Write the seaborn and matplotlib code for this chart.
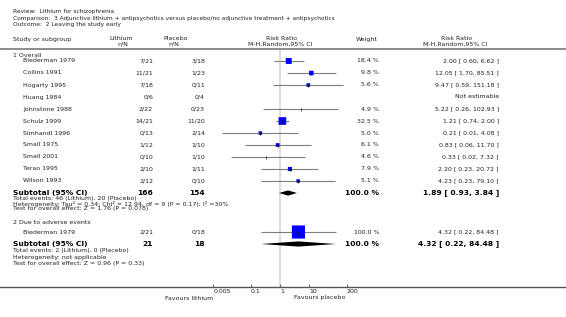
import numpy as np
import pandas as pd
import matplotlib
matplotlib.use('Agg')
import matplotlib.pyplot as plt
import seaborn as sns

# ---- data ----
studies = ["Biederman 1979", "Collins 1991", "Hogarty 1995", "Huang 1984", "Johnstone 1988",
           "Schulz 1999", "Simhandl 1996", "Small 1975", "Small 2001", "Terao 1995", "Wilson 1993"]
lithium = ["7/21", "11/21", "7/18", "0/6", "2/22", "14/21", "0/13", "1/12", "0/10", "2/10", "2/12"]
placebo = ["3/18", "1/23", "0/11", "0/4", "0/23", "11/20", "2/14", "1/10", "1/10", "1/11", "0/10"]
weights = [18.4, 9.8, 5.6, np.nan, 4.9, 32.5, 5.0, 6.1, 4.6, 7.9, 5.1]
rr = [2.00, 12.05, 9.47, np.nan, 5.22, 1.21, 0.21, 0.83, 0.33, 2.20, 4.23]
rr_lo = [0.60, 1.70, 0.59, np.nan, 0.26, 0.74, 0.01, 0.06, 0.02, 0.23, 0.23]
rr_hi = [6.62, 85.51, 151.18, np.nan, 102.93, 2.00, 4.08, 11.70, 7.32, 20.72, 79.10]

g2_study = ["Biederman 1979"]
g2_lithium = ["2/21"]
g2_placebo = ["0/18"]
g2_weights = [100.0]
g2_rr = [4.32]
g2_lo = [0.22]
g2_hi = [84.48]

sub_rr = [1.89, 4.32]
sub_lo = [0.93, 0.22]
sub_hi = [3.84, 84.48]
sub_n_li = ["166", "21"]
sub_n_pl = ["154", "18"]

ticks = [0.005, 0.1, 1, 10, 200]

# ---- layout (pixels) ----
W, H = 566, 317
x_one = 280.0
px_dec = 29.0
row_y = [61, 73, 85, 97, 109, 121, 133, 145, 157, 169, 181]
g2_y = [232]
sub_y = [193, 244]

fig = plt.figure(figsize=(W / 100, H / 100), dpi=100)
ax = fig.add_axes([0, 1 - 287 / H, 1, (287 - 49) / H])
ax.set_xscale('log')
ax.set_xlim(10 ** (-x_one / px_dec), 10 ** ((W - x_one) / px_dec))
ax.set_ylim(287, 49)

FS = 4.5
TC = '#222222'


def put(x, y, s, **kw):
    kw.setdefault('fontsize', FS)
    kw.setdefault('color', TC)
    kw.setdefault('va', 'center')
    fig.text(x / W, 1 - y / H, s, **kw)


df = pd.DataFrame({"study": studies + g2_study,
                   "rr": rr + g2_rr, "lo": rr_lo + g2_lo, "hi": rr_hi + g2_hi,
                   "weight": weights + g2_weights,
                   "y": row_y + g2_y})
est = df.dropna(subset=["rr"])

ax.axvline(1, color='#dedede', lw=1.6, zorder=0)
ax.hlines(est["y"], est["lo"], est["hi"], color='#7f7f7f', lw=0.8, zorder=1)

sq = est[est["weight"] >= 5.0]
sns.scatterplot(data=sq, x="rr", y="y", marker='s', size="weight",
                sizes={w: 0.876 * w + 2 for w in sq["weight"]}, color='#0000ff',
                edgecolor='none', linewidth=0, legend=False, ax=ax, zorder=2)
for c in ax.collections[-1:]:
    c.set_snap(False)
ax.vlines(est["rr"], est["y"] - 1.5, est["y"] + 1.5, color='black', lw=0.5, zorder=3)

for r, lo, hi, y in zip(sub_rr, sub_lo, sub_hi, sub_y):
    ax.fill([lo, r, hi, r], [y, y - 2.6, y, y + 2.6], color='black', lw=0, zorder=3)

ax.set_xticks(ticks)
ax.set_xticklabels(["0.005", "0.1", "1", "10", "200"])
ax.minorticks_off()
ax.tick_params(axis='x', direction='in', length=2.2, width=0.6, color='#444444',
               labelsize=FS, labelcolor=TC, pad=1.5)
for lab in ax.get_xticklabels():
    lab.set_ha('left')
ax.set_yticks([])
ax.set_xlabel("")
ax.set_ylabel("")
for s in ['left', 'right']:
    ax.spines[s].set_visible(False)
ax.spines['top'].set_color('#8c8c8c')
ax.spines['top'].set_linewidth(1.4)
ax.spines['bottom'].set_color('#555555')
ax.spines['bottom'].set_linewidth(1.0)

# ---- titles and headers ----
FT = 4.2
put(13, 12, "Review:  Lithium for schizophrenia", fontsize=FT)
put(13, 18.5, "Comparison:  3 Adjunctive lithium + antipsychotics versus placebo/no adjunctive treatment + antipsychotics", fontsize=FT)
put(13, 24.5, "Outcome:  2 Leaving the study early", fontsize=FT)
put(13, 39, "Study or subgroup")
put(121, 39, "Lithium", ha='center')
put(123, 44, "n/N", ha='center')
put(176, 39, "Placebo", ha='center')
put(174, 44, "n/N", ha='center')
put(282, 39, "Risk Ratio", ha='center')
put(280, 44, "M-H,Random,95% CI", ha='center')
put(367, 39, "Weight", ha='center')
put(457, 39, "Risk Ratio", ha='center')
put(455, 44, "M-H,Random,95% CI", ha='center')


def fmt(r, lo, hi):
    return "%.2f [ %.2f, %.2f ]" % (r, lo, hi)


# group 1
put(13, 55.5, "1 Overall")
for i, name in enumerate(studies):
    y = row_y[i]
    put(23, y, name)
    put(153, y, lithium[i], ha='right')
    put(205, y, placebo[i], ha='right')
    if np.isnan(rr[i]):
        put(499, y, "Not estimable", ha='right')
    else:
        put(379, y, "%.1f %%" % weights[i], ha='right')
        put(499, y, fmt(rr[i], rr_lo[i], rr_hi[i]), ha='right')

# group 2
put(13, 222, "2 Due to adverse events")
for i, name in enumerate(g2_study):
    y = g2_y[i]
    put(23, y, name)
    put(153, y, g2_lithium[i], ha='right')
    put(205, y, g2_placebo[i], ha='right')
    put(379, y, "%.1f %%" % g2_weights[i], ha='right')
    put(499, y, fmt(g2_rr[i], g2_lo[i], g2_hi[i]), ha='right')

FB = 5.4
for k in range(2):
    y = sub_y[k]
    put(13, y, "Subtotal (95% CI)", fontsize=FB, fontweight='bold', color='black')
    put(153, y, sub_n_li[k], ha='right', fontsize=FB, fontweight='bold', color='black')
    put(205, y, sub_n_pl[k], ha='right', fontsize=FB, fontweight='bold', color='black')
    put(379, y, "100.0 %", ha='right', fontsize=FB, fontweight='bold', color='black')
    put(499, y, fmt(sub_rr[k], sub_lo[k], sub_hi[k]), ha='right', fontsize=FB,
        fontweight='bold', color='black')

put(13, 198.5, "Total events: 46 (Lithium), 20 (Placebo)")
put(13, 203.7, "Heterogeneity: Tau\u00b2 = 0.34; Chi\u00b2 = 12.94, df = 9 (P = 0.17); I\u00b2 =30%")
put(13, 208.7, "Test for overall effect: Z = 1.76 (P = 0.078)")
put(13, 250.5, "Total events: 2 (Lithium), 0 (Placebo)")
put(13, 257.5, "Heterogeneity: not applicable")
put(13, 264, "Test for overall effect: Z = 0.96 (P = 0.33)")

put(213, 298, "Favours lithium", ha='right')
put(294, 298, "Favours placebo", ha='left')

fig.savefig("out.png", dpi=100)
